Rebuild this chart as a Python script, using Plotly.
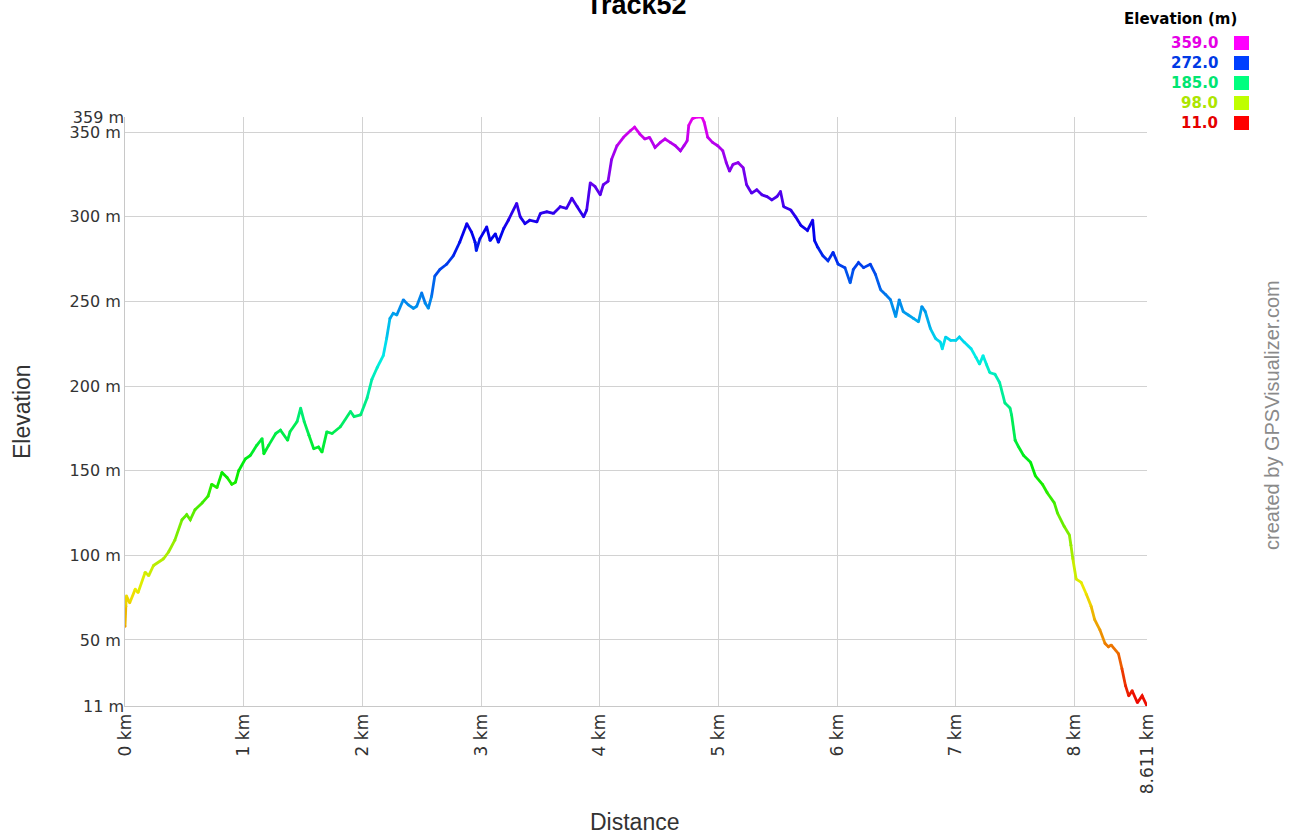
import colorsys
import plotly.graph_objects as go

# ---------------- data ----------------
title_text = "Track52"

dist_km = [
    0.000, 0.007, 0.012, 0.040, 0.086, 0.110, 0.170, 0.200, 0.240, 0.325,
    0.367, 0.420, 0.480, 0.520, 0.550, 0.590, 0.650, 0.700, 0.730, 0.775,
    0.817, 0.860, 0.900, 0.930, 0.958, 1.014, 1.056, 1.110, 1.155, 1.170,
    1.210, 1.270, 1.310, 1.370, 1.390, 1.450, 1.480, 1.510, 1.550, 1.590,
    1.630, 1.660, 1.700, 1.745, 1.815, 1.900, 1.930, 1.985, 2.040, 2.080,
    2.125, 2.176, 2.204, 2.232, 2.260, 2.290, 2.345, 2.387, 2.430, 2.457,
    2.500, 2.530, 2.556, 2.583, 2.610, 2.654, 2.710, 2.766, 2.820, 2.880,
    2.920, 2.950, 2.960, 2.990, 3.048, 3.076, 3.120, 3.146, 3.190, 3.230,
    3.300, 3.330, 3.370, 3.410, 3.470, 3.500, 3.554, 3.610, 3.667, 3.720,
    3.765, 3.810, 3.864, 3.890, 3.920, 3.960, 4.004, 4.030, 4.070, 4.100,
    4.145, 4.200, 4.260, 4.294, 4.337, 4.380, 4.420, 4.466, 4.510, 4.550,
    4.594, 4.637, 4.680, 4.710, 4.737, 4.750, 4.780, 4.820, 4.860, 4.880,
    4.910, 4.950, 4.994, 5.037, 5.066, 5.094, 5.123, 5.166, 5.209, 5.237,
    5.280, 5.323, 5.366, 5.409, 5.450, 5.494, 5.523, 5.550, 5.610, 5.650,
    5.694, 5.750, 5.794, 5.810, 5.837, 5.880, 5.923, 5.966, 6.009, 6.066,
    6.110, 6.137, 6.180, 6.223, 6.280, 6.323, 6.366, 6.410, 6.450, 6.494,
    6.523, 6.557, 6.600, 6.643, 6.686, 6.714, 6.743, 6.786, 6.830, 6.870,
    6.886, 6.914, 6.957, 7.000, 7.030, 7.070, 7.130, 7.170, 7.200, 7.230,
    7.257, 7.286, 7.330, 7.370, 7.414, 7.457, 7.470, 7.500, 7.530, 7.571,
    7.630, 7.670, 7.730, 7.770, 7.830, 7.857, 7.914, 7.957, 7.970, 7.986,
    8.014, 8.057, 8.100, 8.140, 8.170, 8.214, 8.257, 8.286, 8.310, 8.370,
    8.400, 8.430, 8.457, 8.486, 8.530, 8.570, 8.611,
]

elev_m = [
    58, 70, 76, 72, 80, 78, 90, 88, 94, 98,
    102, 109, 121, 124, 121, 127, 131, 135, 142, 140,
    149, 146, 142, 143, 150, 157, 159, 165, 169, 160,
    165, 172, 174, 168, 173, 179, 187, 179, 171, 163,
    164, 161, 173, 172, 176, 185, 182, 183, 193, 204,
    211, 218, 228, 240, 243, 242, 251, 248, 246, 247,
    255, 249, 246, 253, 265, 269, 272, 277, 285, 296,
    291, 285, 280, 287, 294, 286, 290, 285, 293, 298,
    308, 300, 296, 298, 297, 302, 303, 302, 306, 305,
    311, 306, 300, 304, 320, 318, 313, 319, 321, 334,
    342, 347, 351, 353, 349, 346, 347, 341, 344, 346,
    344, 342, 339, 342, 345, 354, 358, 359, 359, 356,
    347, 344, 342, 339, 332, 327, 331, 332, 329, 319,
    314, 316, 313, 312, 310, 312, 315, 306, 304, 300,
    295, 292, 298, 286, 282, 277, 274, 279, 272, 270,
    261, 269, 273, 270, 272, 266, 257, 254, 251, 241,
    251, 244, 242, 240, 238, 247, 244, 234, 228, 226,
    222, 229, 227, 227, 229, 226, 222, 217, 213, 218,
    213, 208, 207, 202, 190, 187, 183, 168, 164, 159,
    155, 147, 142, 137, 131, 125, 117, 112, 106, 98,
    86, 84, 77, 70, 62, 56, 48, 46, 47, 42,
    33, 23, 17, 20, 13, 17, 11,
]

y_grid_ticks = [50, 100, 150, 200, 250, 300, 350]
y_edge_ticks = [11, 359]
x_ticks = [0, 1, 2, 3, 4, 5, 6, 7, 8, 8.611]
x_tick_text = ["0 km", "1 km", "2 km", "3 km", "4 km", "5 km", "6 km", "7 km", "8 km", "8.611 km"]
legend_title = "Elevation (m)"
legend_values = [359.0, 272.0, 185.0, 98.0, 11.0]
x_title = "Distance"
y_title = "Elevation"
credit_text = "created by GPSVisualizer.com"

ELEV_MIN, ELEV_MAX = 11.0, 359.0


def elev_color(e, v=0.93):
    t = (e - ELEV_MIN) / (ELEV_MAX - ELEV_MIN)
    t = min(max(t, 0.0), 1.0)
    r, g, b = colorsys.hsv_to_rgb(t * 300.0 / 360.0, 1.0, v)
    return f"rgb({int(r * 255)},{int(g * 255)},{int(b * 255)})"


# ---------------- figure geometry ----------------
W, H = 1297, 834
ML, MR, MT, MB = 125, 150, 117, 128
PW, PH = W - ML - MR, H - MT - MB


def px_to_paper_x(px):
    return (px - ML) / PW


def px_to_paper_y(py):
    return 1 - (py - MT) / PH


fig = go.Figure()

# joint-filling markers (coloured by elevation)
fig.add_trace(go.Scatter(
    x=dist_km, y=elev_m, mode="markers",
    marker=dict(size=2.8, color=[elev_color(e) for e in elev_m], line=dict(width=0)),
    hoverinfo="skip", showlegend=False, yaxis="y2",
))

# coloured line segments grouped into colour bins
NBINS = 120
bins = {}
n = len(dist_km)
i = 0
while i < n - 1:
    mid = (elev_m[i] + elev_m[i + 1]) / 2
    b = min(int((mid - ELEV_MIN) / (ELEV_MAX - ELEV_MIN) * NBINS), NBINS - 1)
    j = i
    while j < n - 1:
        mid2 = (elev_m[j] + elev_m[j + 1]) / 2
        b2 = min(int((mid2 - ELEV_MIN) / (ELEV_MAX - ELEV_MIN) * NBINS), NBINS - 1)
        if b2 != b:
            break
        j += 1
    xs, ys = bins.setdefault(b, ([], []))
    xs.extend(dist_km[i:j + 1] + [None])
    ys.extend(elev_m[i:j + 1] + [None])
    i = j

for b, (xs, ys) in sorted(bins.items()):
    e_mid = ELEV_MIN + (b + 0.5) / NBINS * (ELEV_MAX - ELEV_MIN)
    fig.add_trace(go.Scatter(
        x=xs, y=ys, mode="lines",
        line=dict(color=elev_color(e_mid), width=2.8),
        hoverinfo="skip", showlegend=False, connectgaps=False,
    ))

tick_font = dict(family="DejaVu Sans, Arial, sans-serif", size=16, color="#333333")

fig.update_layout(
    width=W, height=H,
    margin=dict(l=ML, r=MR, t=MT, b=MB, pad=0),
    paper_bgcolor="white", plot_bgcolor="white",
    showlegend=False,
    xaxis=dict(
        range=[0, 8.611], tickvals=x_ticks, ticktext=x_tick_text,
        tickangle=-90, tickfont=dict(family="DejaVu Sans, Arial, sans-serif", size=17, color="#333333"),
        showgrid=True, gridcolor="#d2d2d2", gridwidth=1,
        zeroline=False, showline=True, linecolor="#c8c8c8", linewidth=1,
        ticks="", fixedrange=True,
    ),
    yaxis=dict(
        range=[ELEV_MIN, ELEV_MAX], tickvals=y_grid_ticks,
        ticktext=[f"{v} m" for v in y_grid_ticks], tickfont=tick_font,
        showgrid=True, gridcolor="#d2d2d2", gridwidth=1,
        zeroline=False, showline=True, linecolor="#c8c8c8", linewidth=1,
        ticks="", fixedrange=True,
    ),
    yaxis2=dict(
        range=[ELEV_MIN, ELEV_MAX], tickvals=y_edge_ticks,
        ticktext=[f"{v} m" for v in y_edge_ticks], tickfont=tick_font,
        overlaying="y", side="left", showgrid=False, zeroline=False,
        showline=False, ticks="", fixedrange=True,
    ),
)

annotations = [
    dict(text=f"<b>{title_text}</b>", x=0.5, y=px_to_paper_y(5), xref="paper", yref="paper",
         xanchor="center", yanchor="middle", showarrow=False,
         font=dict(family="Liberation Sans, Arial, sans-serif", size=27, color="#000000")),
    dict(text=y_title, x=px_to_paper_x(22), y=px_to_paper_y(412), xref="paper", yref="paper",
         xanchor="center", yanchor="middle", textangle=-90, showarrow=False,
         font=dict(family="Liberation Sans, Arial, sans-serif", size=23, color="#333333")),
    dict(text=x_title, x=px_to_paper_x(634), y=px_to_paper_y(822), xref="paper", yref="paper",
         xanchor="center", yanchor="middle", showarrow=False,
         font=dict(family="Liberation Sans, Arial, sans-serif", size=23, color="#333333")),
    dict(text=credit_text, x=px_to_paper_x(1272), y=px_to_paper_y(415), xref="paper", yref="paper",
         xanchor="center", yanchor="middle", textangle=-90, showarrow=False,
         font=dict(family="Liberation Sans, Arial, sans-serif", size=20, color="#8a8a8a")),
    dict(text=f"<b>{legend_title}</b>", x=px_to_paper_x(1180), y=px_to_paper_y(19), xref="paper", yref="paper",
         xanchor="center", yanchor="middle", showarrow=False,
         font=dict(family="DejaVu Sans, Arial, sans-serif", size=15, color="#000000")),
]

shapes = []
row_y = [43, 63, 83, 103, 123]
for v, ry in zip(legend_values, row_y):
    annotations.append(dict(
        text=f"<b>{v:.1f}</b>", x=px_to_paper_x(1220), y=px_to_paper_y(ry),
        xref="paper", yref="paper", xanchor="right", yanchor="middle", showarrow=False,
        font=dict(family="DejaVu Sans, Arial, sans-serif", size=15, color=elev_color(v, 0.9)),
    ))
    shapes.append(dict(
        type="rect", xref="paper", yref="paper",
        x0=px_to_paper_x(1234), x1=px_to_paper_x(1249),
        y0=px_to_paper_y(ry + 7), y1=px_to_paper_y(ry - 7),
        fillcolor=elev_color(v, 1.0), line=dict(width=0), layer="above",
    ))

fig.update_layout(annotations=annotations, shapes=shapes)

fig.write_html(
    "out.html",
    config={"displayModeBar": False},
    post_script="document.body.style.margin='0';document.body.style.overflow='hidden';",
)
